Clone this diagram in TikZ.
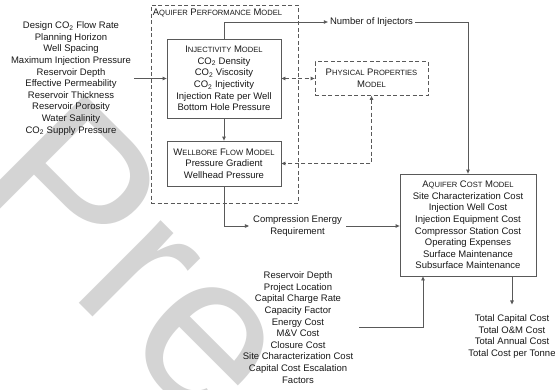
\documentclass[tikz,border=0pt]{standalone}
\usepackage{fontspec}
\setmainfont{Liberation Sans}
\usetikzlibrary{arrows.meta}
\newcommand\fsc[1]{{\fontsize{7.6}{8}\selectfont #1}}
\begin{document}
\begin{tikzpicture}[x=1pt,y=-1pt,
  txt/.style={align=center,font=\fontsize{9.5}{11.6}\selectfont,text=black!90,inner sep=0pt},
  box/.style={draw=black!65,line width=0.8pt,align=center,font=\fontsize{9.5}{11.6}\selectfont,text=black!90,inner sep=0pt},
  dbox/.style={box,dash pattern=on 4pt off 2.5pt},
  arr/.style={draw=black!65,line width=0.8pt,-{Triangle[length=4pt,width=3.5pt]}},
  darr/.style={draw=black!65,line width=0.8pt,dash pattern=on 4pt off 2.5pt,{Triangle[length=4pt,width=3.5pt]}-{Triangle[length=4pt,width=3.5pt]}},
]
\useasboundingbox (0,0) rectangle (555,389);
\fill[white] (0,0) rectangle (555,389);
\begin{scope}
\clip (0,0) rectangle (555,389);
\node[anchor=base west,rotate=-45,inner sep=0pt,text=black!17,font=\fontsize{220}{220}\selectfont] (wm) at (-35,189) {Pre};
\end{scope}

\node[txt] (inputs) at (71,78.5) {Design CO\textsubscript{2} Flow Rate\\Planning Horizon\\Well Spacing\\Maximum Injection Pressure\\Reservoir Depth\\Effective Permeability\\Reservoir Thickness\\Reservoir Porosity\\Water Salinity\\CO\textsubscript{2} Supply Pressure};

\node[dbox,minimum width=147pt,minimum height=198pt] (apm) at (224.5,104) {};
\node[txt,anchor=north west] (apml) at ([shift={(2,4.6)}]apm.north west) {A\fsc{QUIFER} P\fsc{ERFORMANCE} M\fsc{ODEL}};

\node[box,minimum width=114pt,minimum height=79pt] (inj) at (224,78.5) {I\fsc{NJECTIVITY} M\fsc{ODEL}\\CO\textsubscript{2} Density\\CO\textsubscript{2} Viscosity\\CO\textsubscript{2} Injectivity\\Injection Rate per Well\\Bottom Hole Pressure};

\node[box,minimum width=114pt,minimum height=45pt] (wb) at (224,163.5) {W\fsc{ELLBORE} F\fsc{LOW} M\fsc{ODEL}\\Pressure Gradient\\Wellhead Pressure};

\node[dbox,minimum width=113pt,minimum height=34pt] (phys) at (371.5,78.5) {P\fsc{HYSICAL} P\fsc{ROPERTIES}\\M\fsc{ODEL}};

\node[box,minimum width=136pt,minimum height=102pt] (cost) at (468,225) {A\fsc{QUIFER} C\fsc{OST} M\fsc{ODEL}\\Site Characterization Cost\\Injection Well Cost\\Injection Equipment Cost\\Compressor Station Cost\\Operating Expenses\\Surface Maintenance\\Subsurface Maintenance};

\node[txt,inner sep=2pt] (injn) at (371.5,22) {Number of Injectors};
\node[txt,inner sep=4pt] (comp) at (297.5,226) {Compression Energy\\Requirement};
\node[txt] (cin) at (298,327.5) {Reservoir Depth\\Project Location\\Capital Charge Rate\\Capacity Factor\\Energy Cost\\M\&V Cost\\Closure Cost\\Site Characterization Cost\\Capital Cost Escalation\\Factors};
\node[txt] (out) at (512,336.5) {Total Capital Cost\\Total O\&M Cost\\Total Annual Cost\\Total Cost per Tonne};

\draw[arr] ([xshift=3pt]inputs.east) -- (inj.west);
\draw[arr] (inj.south) -- (wb.north);
\draw[arr] (inj.north) |- (injn.west);
\draw[arr] (injn.east) -| (cost.north);
\draw[darr] (inj.east) -- (phys.west);
\draw[darr] (phys.south) |- (wb.east);
\draw[arr] (wb.south) |- (comp.west);
\draw[arr] (comp.east) -- (comp.east -| cost.west);
\draw[arr] ([xshift=6pt]cin.east) -| ([xshift=-45pt]cost.south);
\draw[arr] (cost.south -| out.north) -- ([yshift=10pt]out.north);
\end{tikzpicture}
\end{document}
